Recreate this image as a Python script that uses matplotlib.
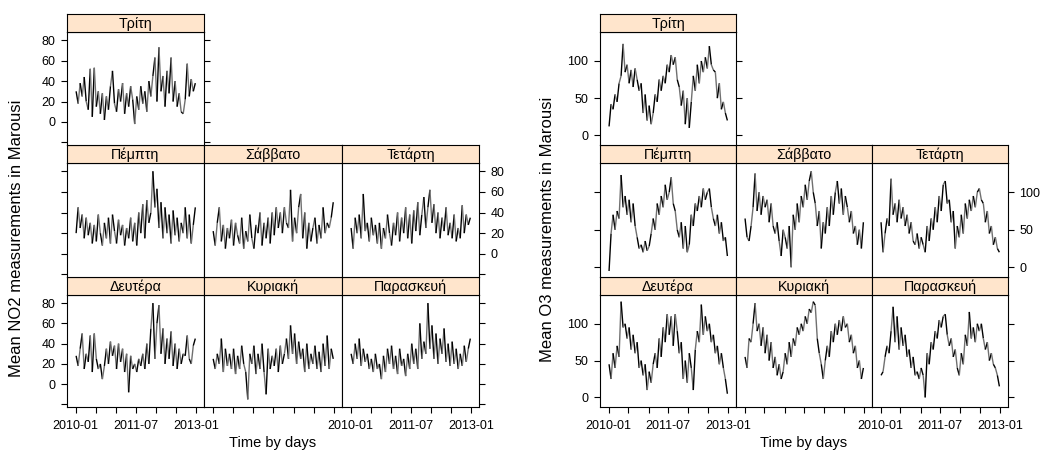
import numpy as np
import pandas as pd
import matplotlib
matplotlib.use('Agg')
import matplotlib.pyplot as plt
import matplotlib.dates as mdates
from matplotlib.collections import LineCollection

plt.rcParams['font.family'] = ['Liberation Sans', 'DejaVu Sans']

# panels in lattice order (bottom-left first)
days = ['Δευτέρα', 'Κυριακή', 'Παρασκευή', 'Πέμπτη', 'Σάββατο', 'Τετάρτη', 'Τρίτη']
dates = pd.date_range('2010-01-04', '2012-12-24', periods=60)

# NO2 (roughly every 3 weeks)
no2_mon = [28, 18, 35, 50, 15, 30, 22, 48, 12, 50, 25, 15, 20, 5, 18, 35, 20, 42, 28, 38,
           15, 40, 22, 35, 12, 30, -8, 28, 15, 20, 12, 25, 18, 30, 15, 40, 20, 55, 80, 25,
           60, 78, 30, 55, 20, 45, 25, 52, 18, 40, 15, 35, 20, 30, 28, 48, 25, 20, 38, 45]
no2_sun = [25, 15, 30, 20, 45, 12, 35, 18, 30, 15, 35, 10, 28, 15, 38, 20, 12, -15, 30, 20,
           38, 10, 30, 15, 40, 12, -10, 35, 15, 28, 18, 35, 12, 38, 20, 30, 45, 25, 58, 30,
           50, 20, 42, 25, 35, 12, 40, 15, 30, 20, 38, 15, 32, 12, 40, 18, 48, 15, 35, 25]
no2_fri = [30, 20, 40, 25, 45, 18, 35, 22, 30, 15, 25, 12, 30, 15, 20, 5, 28, 12, 35, 20,
           38, 15, 28, 10, 35, 18, 25, 8, 30, 15, 40, 20, 35, 15, 60, 25, 42, 30, 80, 35,
           58, 25, 50, 20, 45, 30, 55, 22, 40, 18, 42, 20, 35, 15, 30, 18, 38, 22, 35, 45]
no2_thu = [20, 45, 25, 38, 15, 35, 18, 30, 10, 28, 12, 38, 20, 8, 30, 15, 35, 10, 38, 22,
           10, 33, 18, 28, 8, 25, 15, 35, 12, 30, 8, 40, 20, 48, 15, 52, 30, 40, 80, 45,
           63, 25, 50, 15, 45, 20, 38, 10, 42, 18, 35, 12, 30, 20, 45, 15, 38, 10, 28, 45]
no2_sat = [22, 8, 30, 45, 12, 28, 5, 25, 15, 33, 8, 30, 18, 10, 35, 5, 22, 12, 38, 15,
           5, 28, 20, 40, 8, 30, 15, 35, 10, 40, 18, 45, 25, 40, 20, 45, 30, 25, 62, 12,
           35, 20, 45, 58, 15, 40, 5, 30, 12, 25, 35, 10, 28, 15, 45, 20, 30, 25, 35, 50]
no2_wed = [25, 5, 35, 20, 38, 15, 58, 22, 30, 12, 35, 18, 28, 10, 30, 5, 25, 15, 38, 20,
           8, 30, 18, 40, 12, 35, 20, 45, 15, 38, 10, 42, 22, 50, 18, 38, 55, 25, 45, 62,
           30, 48, 20, 40, 15, 35, 22, 45, 18, 30, 15, 38, 12, 25, 15, 47, 20, 38, 28, 35]
no2_tue = [30, 18, 38, 25, 44, 20, 12, 52, 5, 53, 15, 30, 8, 28, 2, 25, 12, 35, 50, 18,
           10, 32, 20, 38, 8, 28, 15, 35, 22, -2, 25, 12, 35, 18, 30, 10, 40, 25, 45, 63,
           20, 73, 30, 45, 15, 50, 28, 63, 20, 40, 15, 28, 10, 8, 22, 57, 25, 42, 30, 38]

# O3
o3_mon = [45, 25, 60, 40, 70, 55, 130, 95, 100, 80, 95, 65, 85, 60, 75, 40, 50, 30, 45, 10,
          35, 20, 45, 60, 40, 80, 55, 95, 75, 113, 85, 110, 70, 113, 90, 60, 75, 25, 50, 20,
          60, 40, 10, 65, 90, 75, 126, 85, 110, 90, 100, 75, 85, 60, 70, 45, 60, 40, 25, 5]
o3_sun = [55, 40, 80, 75, 100, 128, 90, 100, 70, 95, 60, 85, 50, 75, 40, 55, 30, 45, 25, 35,
          60, 45, 75, 55, 80, 70, 95, 85, 100, 90, 110, 100, 120, 115, 130, 125, 80, 60, 45, 25,
          50, 70, 55, 90, 75, 100, 85, 105, 90, 110, 95, 100, 75, 85, 60, 70, 40, 50, 25, 40]
o3_fri = [30, 35, 55, 70, 60, 90, 123, 75, 110, 65, 95, 70, 85, 55, 65, 40, 55, 30, 35, 25,
          40, 30, 0, 60, 45, 75, 65, 90, 80, 105, 95, 110, 113, 85, 70, 80, 55, 65, 40, 30,
          60, 45, 85, 70, 116, 80, 95, 75, 100, 90, 100, 80, 65, 75, 50, 60, 45, 40, 30, 15]
o3_thu = [-5, 45, 70, 50, 75, 65, 123, 80, 95, 70, 90, 60, 85, 55, 40, 25, 30, 20, 35, 22,
          28, 45, 65, 50, 85, 70, 95, 80, 110, 90, 100, 120, 85, 75, 50, 40, 60, 25, 55, 20,
          30, 70, 55, 85, 75, 95, 80, 105, 90, 100, 105, 80, 65, 55, 70, 45, 60, 35, 40, 15]
o3_sat = [65, 40, 35, 55, 80, 125, 75, 100, 70, 95, 80, 90, 60, 85, 55, 45, 60, 35, 15, 50,
          40, 25, 55, 0, 70, 50, 85, 60, 95, 80, 110, 90, 115, 128, 100, 85, 55, 75, 25, 60,
          45, 80, 55, 95, 70, 100, 115, 85, 105, 70, 95, 80, 60, 75, 45, 55, 30, 50, 25, 60]
o3_wed = [60, 20, 45, 65, 55, 118, 70, 85, 60, 90, 65, 80, 55, 70, 45, 60, 35, 30, 45, 25,
          40, 30, 20, 55, 35, 65, 50, 80, 60, 95, 75, 110, 115, 85, 90, 60, 75, 25, 55, 40,
          70, 45, 85, 65, 90, 75, 95, 80, 100, 105, 90, 85, 60, 75, 45, 55, 30, 40, 25, 20]
o3_tue = [12, 42, 35, 55, 45, 70, 80, 123, 85, 95, 70, 88, 65, 90, 75, 60, 70, 30, 55, 20,
          40, 15, 30, 55, 45, 75, 60, 80, 70, 95, 85, 108, 95, 105, 75, 65, 40, 60, 15, 50,
          10, 45, 80, 60, 95, 70, 100, 85, 105, 90, 120, 95, 88, 85, 50, 70, 35, 45, 30, 20]

no2 = [no2_mon, no2_sun, no2_fri, no2_thu, no2_sat, no2_wed, no2_tue]
o3 = [o3_mon, o3_sun, o3_fri, o3_thu, o3_sat, o3_wed, o3_tue]

xtick_dates = pd.to_datetime(['2010-01-01', '2010-07-01', '2011-01-01', '2011-07-01',
                              '2012-01-01', '2012-07-01', '2013-01-01'])
xtick_labels = ['2010-01', '', '', '2011-07', '', '', '2013-01']
xlim = mdates.date2num(pd.to_datetime(['2009-10-13', '2013-03-13']))

W, H = 1040, 461
fig = plt.figure(figsize=(W / 100, H / 100), dpi=100)


def box(x0, y0, x1, y1):
    return [x0 / W, 1 - y1 / H, (x1 - x0) / W, (y1 - y0) / H]


# rows: (strip top, panel top, panel bottom); row 0 = bottom
rows = [(277, 295, 407), (145, 163, 277), (14, 32, 145)]
strip_col = '#ffe5cc'
xnum = mdates.date2num(dates)


def lattice(cols, series, ylim, yticks, ylabels, ylab, xcenter, ylabx, ylaby):
    for k, name in enumerate(days):
        r, c = divmod(k, 3)
        cx0, cx1 = cols[c], cols[c + 1]
        st, pt, pb = rows[r]
        ax = fig.add_axes(box(cx0, pt, cx1, pb))
        vals = np.asarray(series[k], dtype=float)
        pts = np.column_stack([xnum, vals])
        segs = np.stack([pts[:-1], pts[1:]], axis=1)
        colors = ['black' if i % 2 == 0 else '#707070' for i in range(len(segs))]
        ax.add_collection(LineCollection(segs, colors=colors, linewidths=1.0))
        ax.set_xlim(xlim)
        ax.set_ylim(ylim)
        for s in ax.spines.values():
            s.set_linewidth(0.8)

        last = (r == 2 and c == 0) or c == 2
        ax.set_yticks(yticks)
        ax.set_yticklabels(ylabels)
        ax.tick_params(axis='y', direction='out', length=4.3, width=0.8, labelsize=9,
                       left=(c == 0), labelleft=(c == 0 and r != 1),
                       right=last, labelright=(last and r == 1 and c == 2), pad=4)
        ax.set_xticks(mdates.date2num(xtick_dates))
        ax.set_xticklabels(xtick_labels)
        ax.tick_params(axis='x', direction='out', length=4.3, width=0.8, labelsize=9,
                       bottom=(r == 0), labelbottom=(r == 0 and c != 1),
                       top=(r == 2), labeltop=False, pad=5)

        sx = fig.add_axes(box(cx0, st, cx1, pt))
        sx.set_facecolor(strip_col)
        sx.set_xticks([])
        sx.set_yticks([])
        for s in sx.spines.values():
            s.set_linewidth(0.8)
        sx.text(0.5, 0.45, name, ha='center', va='center', fontsize=10.3,
                transform=sx.transAxes)

    fig.text(xcenter / W, 1 - 443 / H, 'Time by days', ha='center', va='center', fontsize=10.5)
    fig.text(ylabx / W, 1 - ylaby / H, ylab, ha='center', va='center', rotation=90, fontsize=12)


no2_ticks = [-20, 0, 20, 40, 60, 80]
lattice([67, 204, 342, 479], no2, (-22.5, 88), no2_ticks,
        ['', '0', '20', '40', '60', '80'],
        'Mean NO2 measurements in Marousi', 273, 17, 238)
lattice([600, 736, 872, 1008], o3, (-13, 139), [0, 50, 100],
        ['0', '50', '100'],
        'Mean O3 measurements in Marousi', 804, 547, 229)

fig.savefig('out.png', dpi=100)
